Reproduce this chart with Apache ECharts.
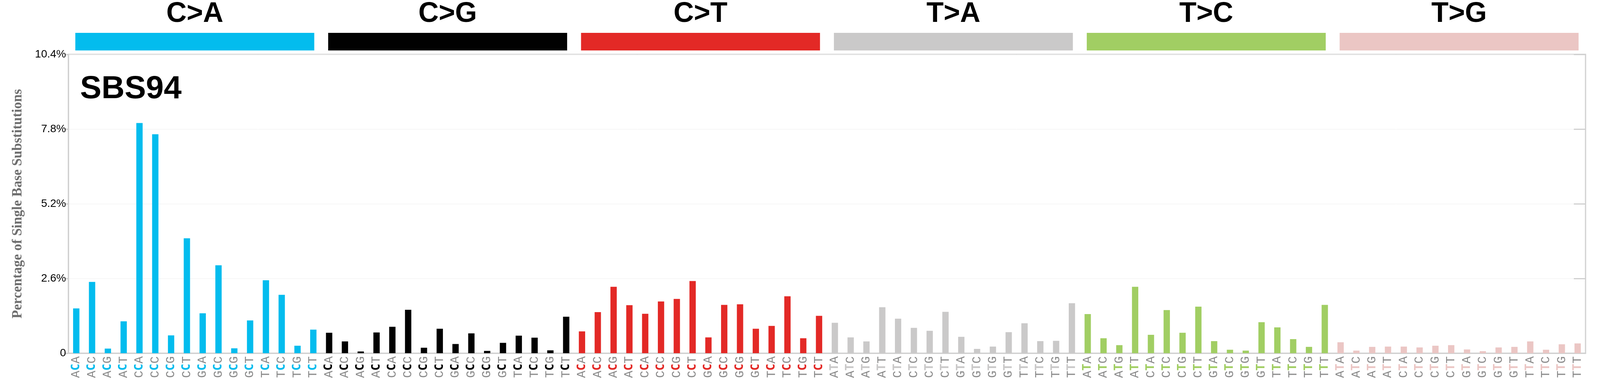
<!DOCTYPE html>
<html><head><meta charset="utf-8">
<script src="https://cdn.jsdelivr.net/npm/echarts@6/dist/echarts.min.js"></script>
<style>html,body{margin:0;padding:0;background:#fff;overflow:hidden;width:100%;height:100%}#c{width:100vw;height:100vh}</style>
</head><body><div id="c"></div>
<script>
const mutationTypes = ['C>A','C>G','C>T','T>A','T>C','T>G'];
const typeColors = ['#03bcee','#010101','#e32926','#cac9c9','#a1ce63','#ebc6c4'];
const flanks = ['A','C','G','T'];
const yTicks = [0, 2.6, 5.2, 7.8, 10.4];
const valsCA = [1.56,2.48,0.16,1.11,8.01,7.62,0.62,4.00,1.39,3.06,0.17,1.14,2.54,2.03,0.26,0.82];
const valsCG = [0.71,0.41,0.06,0.72,0.92,1.51,0.19,0.85,0.32,0.69,0.08,0.36,0.61,0.54,0.10,1.27];
const valsCT = [0.76,1.43,2.31,1.67,1.37,1.80,1.89,2.51,0.55,1.68,1.70,0.85,0.95,1.98,0.52,1.30];
const valsTA = [1.06,0.55,0.41,1.60,1.20,0.88,0.78,1.44,0.57,0.15,0.23,0.73,1.04,0.42,0.43,1.74];
const valsTC = [1.36,0.52,0.28,2.31,0.64,1.50,0.71,1.62,0.42,0.12,0.09,1.08,0.90,0.49,0.22,1.68];
const valsTG = [0.38,0.09,0.22,0.23,0.23,0.20,0.26,0.28,0.13,0.07,0.20,0.22,0.41,0.12,0.31,0.34];
const allVals = [valsCA,valsCG,valsCT,valsTA,valsTC,valsTG];

const cats = [], data = [];
mutationTypes.forEach((t,ti)=>{
  flanks.forEach((f5,i)=>flanks.forEach((f3,j)=>{
    cats.push(ti+'|'+f5+t[0]+f3);
    data.push({value: allVals[ti][i*4+j], itemStyle:{color:typeColors[ti]}});
  }));
});
const rich = {g:{fontFamily:'Liberation Mono',fontSize:31,color:'#8a8a8a'}};
typeColors.forEach((c,i)=>rich['m'+i]={fontFamily:'DejaVu Sans Mono',fontWeight:'bold',fontSize:30,color:c});

const L=175, R=37;
const chart = echarts.init(document.getElementById('c'));
chart.setOption({
  animation:false,
  grid:[{left:L,right:R,top:139,bottom:89,show:true,borderColor:'#d0d0d0',borderWidth:3},
        {left:L,right:R,top:79,height:50}],
  title:{text:'SBS94',left:200,top:182,textStyle:{fontFamily:'Liberation Sans Narrow, Liberation Sans',fontWeight:'bold',fontSize:82,color:'#000'}},
  xAxis:[{type:'category',data:cats,gridIndex:0,
    axisLine:{lineStyle:{color:'#d0d0d0',width:3}},axisTick:{show:false},
    axisLabel:{interval:0,rotate:90,margin:8,align:'right',verticalAlign:'middle',
      formatter:v=>{const [ti,s]=v.split('|');return '{g|'+s[0]+'}{m'+ti+'|'+s[1]+'}{g|'+s[2]+'}';},rich}},
    {type:'category',data:mutationTypes,gridIndex:1,position:'top',
    axisLine:{show:false},axisTick:{show:false},
    axisLabel:{margin:12,fontFamily:'Liberation Sans Narrow, Liberation Sans',fontWeight:'bold',fontSize:72,color:'#000'}}],
  yAxis:[{type:'value',gridIndex:0,min:0,max:10.4,interval:2.6,
    name:'Percentage of Single Base Substitutions',nameLocation:'middle',nameGap:112,
    nameTextStyle:{fontFamily:'Liberation Serif',fontWeight:'bold',fontSize:35,color:'#6e6e6e'},
    axisLine:{show:true,lineStyle:{color:'#d0d0d0',width:3}},
    axisTick:{show:true,length:10,lineStyle:{color:'#d0d0d0',width:3}},
    splitLine:{lineStyle:{color:'#efefef',width:1}},
    axisLabel:{fontFamily:'Liberation Sans Narrow, Liberation Sans',fontSize:28,color:'#000',margin:6,
      formatter:v=>v===0?'0':v.toFixed(1)+'%'}},
    {type:'value',gridIndex:0,min:0,max:10.4,interval:2.6,position:'right',
    axisLine:{show:false},axisTick:{show:true,inside:true,length:30,lineStyle:{color:'#d0d0d0',width:3}},
    axisLabel:{show:false},splitLine:{show:false}},
    {type:'value',gridIndex:1,min:0,max:1,show:false}],
  series:[{type:'bar',xAxisIndex:0,yAxisIndex:0,data,barWidth:'40%'},
    {type:'bar',xAxisIndex:1,yAxisIndex:2,barWidth:'94.5%',
     data:mutationTypes.map((t,i)=>({value:1,itemStyle:{color:typeColors[i]}}))}]
});
</script></body></html>
